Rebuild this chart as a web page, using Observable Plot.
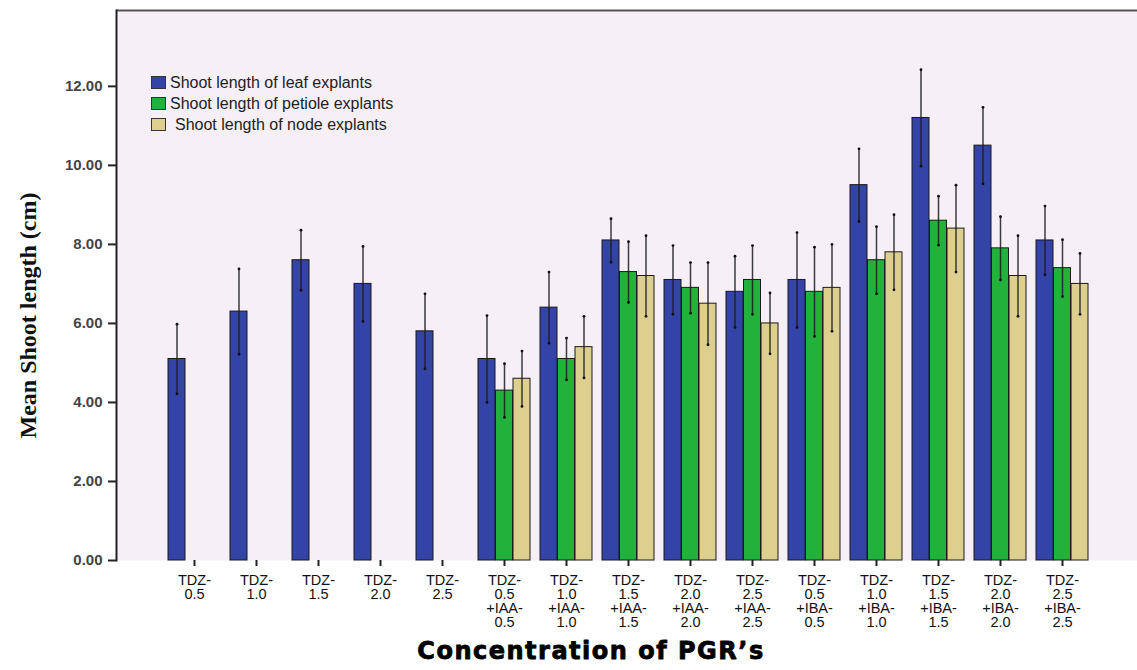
<!DOCTYPE html>
<html>
<head>
<meta charset="utf-8">
<script src="https://cdn.jsdelivr.net/npm/d3@7"></script>
<script src="https://cdn.jsdelivr.net/npm/@observablehq/plot@0.6"></script>
<style>
  html, body { margin: 0; padding: 0; background: #fff; }
  #wrap { position: relative; width: 1137px; height: 670px; }
  .legend { position: absolute; left: 151px; top: 72px; font-family: "Liberation Sans", Arial, sans-serif; font-size: 16px; color: #222; }
  .legend .item { display: flex; align-items: center; height: 21px; }
  .legend .sw { width: 15px; height: 13px; border: 1px solid #333; box-sizing: border-box; margin-right: 4px; }
</style>
</head>
<body>
<div id="wrap"></div>
<script>
// ---- data ----
const groups = [
  "TDZ-0.5","TDZ-1.0","TDZ-1.5","TDZ-2.0","TDZ-2.5",
  "TDZ-0.5+IAA-0.5","TDZ-1.0+IAA-1.0","TDZ-1.5+IAA-1.5","TDZ-2.0+IAA-2.0","TDZ-2.5+IAA-2.5",
  "TDZ-0.5+IBA-0.5","TDZ-1.0+IBA-1.0","TDZ-1.5+IBA-1.5","TDZ-2.0+IBA-2.0","TDZ-2.5+IBA-2.5"
];
const tickLabels = [
  "TDZ-\n0.5","TDZ-\n1.0","TDZ-\n1.5","TDZ-\n2.0","TDZ-\n2.5",
  "TDZ-\n0.5\n+IAA-\n0.5","TDZ-\n1.0\n+IAA-\n1.0","TDZ-\n1.5\n+IAA-\n1.5","TDZ-\n2.0\n+IAA-\n2.0","TDZ-\n2.5\n+IAA-\n2.5",
  "TDZ-\n0.5\n+IBA-\n0.5","TDZ-\n1.0\n+IBA-\n1.0","TDZ-\n1.5\n+IBA-\n1.5","TDZ-\n2.0\n+IBA-\n2.0","TDZ-\n2.5\n+IBA-\n2.5"
];
const seriesNames = ["Shoot length of leaf explants","Shoot length of petiole explants","Shoot length of node explants"];
const seriesColors = ["#3343a6","#22b23c","#ddd08f"];
const leafMean    = [5.1, 6.3, 7.6, 7.0, 5.8, 5.1, 6.4, 8.1, 7.1, 6.8, 7.1, 9.5, 11.2, 10.5, 8.1];
const leafErr     = [0.88,1.08,0.76,0.95,0.95,1.1, 0.9, 0.55,0.87,0.9, 1.2, 0.92,1.22, 0.97, 0.87];
const petioleMean = [0, 0, 0, 0, 0, 4.3, 5.1, 7.3, 6.9, 7.1, 6.8, 7.6, 8.6, 7.9, 7.4];
const petioleErr  = [null,null,null,null,null,0.68,0.53,0.77,0.64,0.87,1.13,0.85,0.62,0.8,0.72];
const nodeMean    = [0, 0, 0, 0, 0, 4.6, 5.4, 7.2, 6.5, 6.0, 6.9, 7.8, 8.4, 7.2, 7.0];
const nodeErr     = [null,null,null,null,null,0.7,0.78,1.02,1.04,0.77,1.1,0.95,1.1,1.02,0.77];
const yTicks = [0, 2, 4, 6, 8, 10, 12];

// ---- table ----
const means = [leafMean, petioleMean, nodeMean];
const errs = [leafErr, petioleErr, nodeErr];
const rows = [];
groups.forEach((g, i) => seriesNames.forEach((s, k) => {
  rows.push({group: g, series: s, k, mean: means[k][i], err: errs[k][i]});
}));
const labelOf = new Map(groups.map((g, i) => [g, tickLabels[i]]));

// ---- layout ----
const W = 1137, H = 670;
const mL = 116, mT = 10, mB = 110, mR = 0;
const xRange = [116, 1141];
const pIn = 0.156, pOut = 0.816;
const step = (xRange[1] - xRange[0]) / (groups.length - pIn + 2 * pOut);
const bw = step * (1 - pIn);
const sub = bw / 3;
const yMax = 13.92;

const barMarks = [];
const errMarks = [];
seriesNames.forEach((s, k) => {
  const data = rows.filter(d => d.k === k);
  barMarks.push(Plot.barY(data, {
    x: "group", y: "mean", fill: seriesColors[k], stroke: "#1a1a1a", strokeWidth: 1,
    insetLeft: k * sub, insetRight: (2 - k) * sub
  }));
  const ed = data.filter(d => d.err != null);
  const dx = (k - 1) * sub;
  errMarks.push(Plot.ruleX(ed, {x: "group", y1: d => d.mean - d.err, y2: d => d.mean + d.err, dx, stroke: "#1c1c1c", strokeWidth: 1.5, strokeOpacity: 0.85}));
  errMarks.push(Plot.dot(ed, {x: "group", y: d => d.mean - d.err, dx, r: 1.4, fill: "#111", stroke: null}));
  errMarks.push(Plot.dot(ed, {x: "group", y: d => d.mean + d.err, dx, r: 1.4, fill: "#111", stroke: null}));
});

const chart = Plot.plot({
  width: W, height: H,
  marginLeft: mL, marginTop: mT, marginBottom: mB, marginRight: mR,
  style: {background: "transparent", fontFamily: "'Liberation Sans', Arial, sans-serif"},
  x: {domain: groups, range: xRange, paddingInner: pIn, paddingOuter: pOut, align: 0.5, label: null},
  y: {domain: [0, yMax], label: null},
  marks: [
    Plot.frame({fill: "#f6eff6", stroke: null}),
    Plot.ruleY([yMax], {stroke: "#555", strokeWidth: 2}),
    ...barMarks,
    ...errMarks,
    Plot.ruleY([0], {x2: groups[groups.length - 1], stroke: "#222", strokeWidth: 2}),
    Plot.frame({anchor: "left", stroke: "#222", strokeWidth: 2}),
    Plot.axisY({ticks: yTicks, tickFormat: d3.format(".2f"), tickSize: 8, tickPadding: 6, fontSize: 15, fontWeight: "bold", fill: "#444", stroke: "#222", strokeWidth: 2, label: null}),
    Plot.axisX({tickFormat: g => labelOf.get(g), tickSize: 6, tickPadding: 8, fontSize: 14.5, lineHeight: 0.97, fill: "#111", stroke: "#222", strokeWidth: 2, label: null}),
    Plot.text(["Mean Shoot length (cm)"], {frameAnchor: "left", textAnchor: "middle", rotate: -90, dx: -88, dy: 30, fontSize: 24, fontWeight: "bold", fontFamily: "'Liberation Serif', 'Times New Roman', serif", fill: "#111"}),
    Plot.text(["Concentration of PGR\u2019s"], {frameAnchor: "bottom", dx: -36, dy: 98, fontSize: 24, fontWeight: "bold", fontFamily: "'DejaVu Sans', sans-serif", fill: "#000", stroke: "#000", strokeWidth: 0.8, lineAnchor: "bottom"})
  ]
});
const wrap = document.getElementById("wrap");
wrap.appendChild(chart);
chart.querySelectorAll("text").forEach(t => {
  if (t.textContent === "Concentration of PGR\u2019s") t.setAttribute("letter-spacing", "1.5");
});

// legend
const lg = document.createElement("div");
lg.className = "legend";
seriesNames.forEach((s, k) => {
  const it = document.createElement("div");
  it.className = "item";
  const sw = document.createElement("div");
  sw.className = "sw";
  sw.style.background = seriesColors[k];
  const tx = document.createElement("span");
  tx.textContent = s;
  if (k === 2) tx.style.marginLeft = "5px";
  it.appendChild(sw); it.appendChild(tx);
  lg.appendChild(it);
});
wrap.appendChild(lg);
</script>
</body>
</html>
